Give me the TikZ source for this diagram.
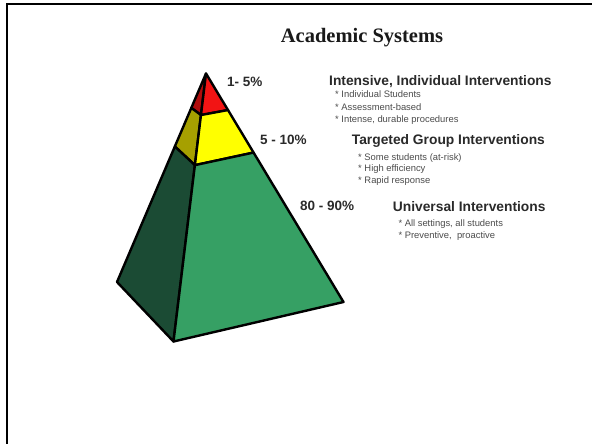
\documentclass[tikz,border=0pt]{standalone}
\usepackage{fontspec}
\setsansfont{Liberation Sans}
\newfontfamily\titlefont{Liberation Serif}
\usetikzlibrary{calc}
\definecolor{redF}{HTML}{F21414}
\definecolor{redL}{HTML}{B00C0C}
\definecolor{yelF}{HTML}{FFFF00}
\definecolor{yelL}{HTML}{A6A000}
\definecolor{grnF}{HTML}{36A064}
\definecolor{grnL}{HTML}{1B4B34}
\definecolor{txt}{HTML}{2A2A2A}
\tikzset{
  face/.style={draw=black, line width=2.4pt, line join=round},
  pct/.style={font=\sffamily\bfseries\fontsize{13.5}{14}\selectfont, text=txt, anchor=west, inner sep=0pt, text height=9.6pt, text depth=0pt},
  head/.style={font=\sffamily\bfseries\fontsize{13.8}{14}\selectfont, text=txt, anchor=west, inner sep=0pt, text height=9.9pt, text depth=0pt},
  item/.style={font=\sffamily\fontsize{9.4}{10}\selectfont, text=black!70, anchor=west, inner sep=0pt, text height=6.8pt, text depth=0pt},
  ttl/.style={font=\titlefont\bfseries\fontsize{20.5}{22}\selectfont, text=black!90, inner sep=0pt}
}
\begin{document}
\begin{tikzpicture}[x=1pt,y=-1pt]
\useasboundingbox (0,0) rectangle (592,444);
\fill[white] (0,0) rectangle (592,444);
% frame (top and left edges only)
\draw[line width=2pt] (6.5,444) -- (6.5,4.5) -- (592,4.5);
% title
\node[ttl] (title) at (362,38) {Academic Systems};
% pyramid corners
\coordinate (A) at (206,73.5);
\coordinate (L) at (117,282);
\coordinate (F) at (173.5,341.5);
\coordinate (R) at (343.5,302);
% tier cuts
\coordinate (L1) at ($(A)!0.165!(L)$);
\coordinate (F1) at ($(A)!0.155!(F)$);
\coordinate (R1) at ($(A)!0.16!(R)$);
\coordinate (L2) at ($(A)!0.35!(L)$);
\coordinate (F2) at ($(A)!0.342!(F)$);
\coordinate (R2) at ($(A)!0.346!(R)$);
% left faces
\filldraw[face, fill=redL] (A) -- (L1) -- (F1) -- cycle;
\filldraw[face, fill=yelL] (L1) -- (L2) -- (F2) -- (F1) -- cycle;
\filldraw[face, fill=grnL] (L2) -- (L) -- (F) -- (F2) -- cycle;
% front faces
\filldraw[face, fill=redF] (A) -- (F1) -- (R1) -- cycle;
\filldraw[face, fill=yelF] (F1) -- (F2) -- (R2) -- (R1) -- cycle;
\filldraw[face, fill=grnF] (F2) -- (F) -- (R) -- (R2) -- cycle;
% percentages
\node[pct] (p1) at (227,82) {1- 5\%};
\node[pct] (p2) at (260,140) {5 - 10\%};
\node[pct] (p3) at (300,206) {80 - 90\%};
% tier 1
\node[head] (h1) at (329,80.5) {Intensive, Individual Interventions};
\node[item] (h1a) at (335,94.3) {* Individual Students};
\node[item] (h1b) at (335,106.7) {* Assessment-based};
\node[item] (h1c) at (335,119.3) {* Intense, durable procedures};
% tier 2
\node[head] (h2) at (351.7,140) {Targeted Group Interventions};
\node[item] (h2a) at (358,157.3) {* Some students (at-risk)};
\node[item] (h2b) at (358,168.5) {* High efficiency};
\node[item] (h2c) at (358,180) {* Rapid response};
% tier 3
\node[head] (h3) at (392.7,206.7) {Universal Interventions};
\node[item] (h3a) at (398.3,223.3) {* All settings, all students};
\node[item] (h3b) at (398.3,235) {* Preventive,\ \ proactive};
\end{tikzpicture}
\end{document}
